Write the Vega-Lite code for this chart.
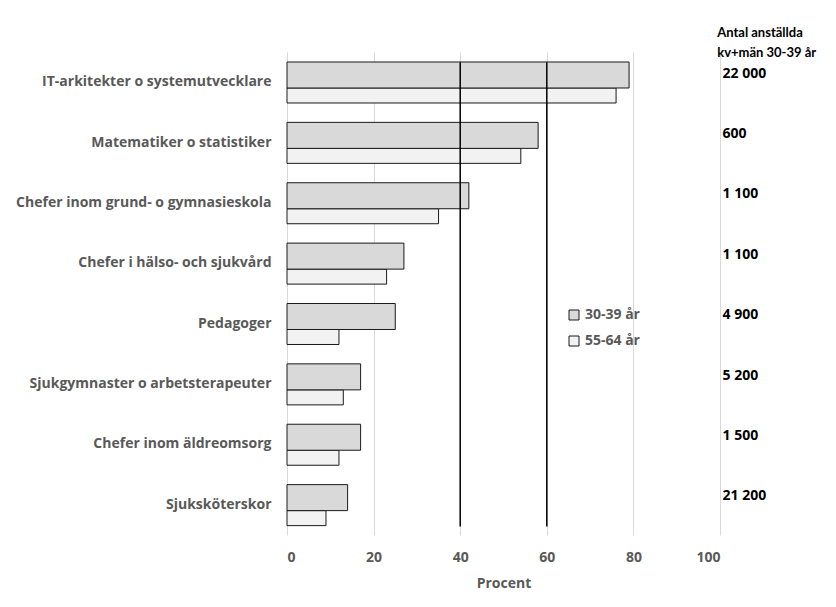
{
  "$schema": "https://vega.github.io/schema/vega-lite/v6.json",
  "width": 433,
  "height": 483,
  "autosize": {"type": "none"},
  "padding": {"left": 287, "top": 52, "right": 116, "bottom": 72},
  "background": "white",
  "config": {"view": {"stroke": null}, "font": "Open Sans"},
  "datasets": {
    "bars": [
      {"yrke": "IT-arkitekter o systemutvecklare", "grupp": "30-39 år", "procent": 79},
      {"yrke": "IT-arkitekter o systemutvecklare", "grupp": "55-64 år", "procent": 76},
      {"yrke": "Matematiker o statistiker", "grupp": "30-39 år", "procent": 58},
      {"yrke": "Matematiker o statistiker", "grupp": "55-64 år", "procent": 54},
      {"yrke": "Chefer inom grund- o gymnasieskola", "grupp": "30-39 år", "procent": 42},
      {"yrke": "Chefer inom grund- o gymnasieskola", "grupp": "55-64 år", "procent": 35},
      {"yrke": "Chefer i hälso- och sjukvård", "grupp": "30-39 år", "procent": 27},
      {"yrke": "Chefer i hälso- och sjukvård", "grupp": "55-64 år", "procent": 23},
      {"yrke": "Pedagoger", "grupp": "30-39 år", "procent": 25},
      {"yrke": "Pedagoger", "grupp": "55-64 år", "procent": 12},
      {"yrke": "Sjukgymnaster o arbetsterapeuter", "grupp": "30-39 år", "procent": 17},
      {"yrke": "Sjukgymnaster o arbetsterapeuter", "grupp": "55-64 år", "procent": 13},
      {"yrke": "Chefer inom äldreomsorg", "grupp": "30-39 år", "procent": 17},
      {"yrke": "Chefer inom äldreomsorg", "grupp": "55-64 år", "procent": 12},
      {"yrke": "Sjuksköterskor", "grupp": "30-39 år", "procent": 14},
      {"yrke": "Sjuksköterskor", "grupp": "55-64 år", "procent": 9}
    ],
    "antal": [
      {"yrke": "IT-arkitekter o systemutvecklare", "antal": "22 000"},
      {"yrke": "Matematiker o statistiker", "antal": "600"},
      {"yrke": "Chefer inom grund- o gymnasieskola", "antal": "1 100"},
      {"yrke": "Chefer i hälso- och sjukvård", "antal": "1 100"},
      {"yrke": "Pedagoger", "antal": "4 900"},
      {"yrke": "Sjukgymnaster o arbetsterapeuter", "antal": "5 200"},
      {"yrke": "Chefer inom äldreomsorg", "antal": "1 500"},
      {"yrke": "Sjuksköterskor", "antal": "21 200"}
    ],
    "granser": [{"grans": 40}, {"grans": 60}]
  },
  "encoding": {
    "y": {
      "field": "yrke",
      "type": "nominal",
      "sort": ["IT-arkitekter o systemutvecklare", "Matematiker o statistiker", "Chefer inom grund- o gymnasieskola", "Chefer i hälso- och sjukvård", "Pedagoger", "Sjukgymnaster o arbetsterapeuter", "Chefer inom äldreomsorg", "Sjuksköterskor"],
      "scale": {"paddingInner": 0, "paddingOuter": 0},
      "axis": {
        "title": null,
        "domain": false,
        "ticks": false,
        "labelFont": "Open Sans",
        "labelFontSize": 14,
        "labelFontWeight": "bold",
        "labelColor": "#595959",
        "labelPadding": 16,
        "labelLimit": 300
      }
    }
  },
  "layer": [
    {
      "data": {"name": "bars"},
      "transform": [{"filter": "datum.grupp === '55-64 år'"}],
      "mark": {"type": "bar", "height": 15, "yOffset": 13.3, "stroke": "#1a1a1a", "strokeWidth": 1},
      "encoding": {
        "x": {
          "field": "procent",
          "type": "quantitative",
          "scale": {"domain": [0, 100], "nice": false},
          "axis": {
            "values": [0, 20, 40, 60, 80, 100],
            "grid": true,
            "gridColor": "#d9d9d9",
            "domain": false,
            "ticks": false,
            "labelFont": "Open Sans",
            "labelFontSize": 14,
            "labelFontWeight": "bold",
            "labelColor": "#595959",
            "labelPadding": 15,
            "title": "Procent",
            "titleFont": "Open Sans",
            "titleFontSize": 14,
            "titleFontWeight": "bold",
            "titleColor": "#595959",
            "titlePadding": 12
          }
        },
        "fill": {
          "field": "grupp",
          "type": "nominal",
          "scale": {"domain": ["30-39 år", "55-64 år"], "range": ["#d9d9d9", "#f2f2f2"]},
          "legend": {
            "title": null,
            "orient": "none",
            "legendX": 280,
            "legendY": 256,
            "padding": 0,
            "symbolType": "square",
            "symbolSize": 100,
            "symbolStrokeColor": "#1a1a1a",
            "symbolStrokeWidth": 1,
            "labelFont": "Open Sans",
            "labelFontSize": 14,
            "labelFontWeight": "bold",
            "labelColor": "#595959",
            "labelOffset": 4,
            "rowPadding": 12
          }
        }
      }
    },
    {
      "data": {"name": "bars"},
      "transform": [{"filter": "datum.grupp === '30-39 år'"}],
      "mark": {"type": "bar", "height": 26, "yOffset": -7.2, "stroke": "#1a1a1a", "strokeWidth": 1},
      "encoding": {
        "x": {"field": "procent", "type": "quantitative"},
        "fill": {"field": "grupp", "type": "nominal"}
      }
    },
    {
      "data": {"name": "granser"},
      "mark": {"type": "rule", "color": "#000000", "strokeWidth": 1.5},
      "encoding": {
        "x": {"field": "grans", "type": "quantitative"},
        "y": {"datum": "IT-arkitekter o systemutvecklare", "bandPosition": 0.17},
        "y2": {"datum": "Sjuksköterskor", "bandPosition": 0.86}
      }
    },
    {
      "data": {"name": "antal"},
      "mark": {"type": "text", "align": "left", "baseline": "middle", "dy": -8.5, "font": "Open Sans", "fontSize": 14, "fontWeight": "bold", "color": "#000000"},
      "encoding": {
        "x": {"datum": 100.6},
        "text": {"field": "antal", "type": "nominal"}
      }
    },
    {
      "data": {"values": [{"rubrik": "Antal anställda"}]},
      "mark": {"type": "text", "text": ["Antal anställda", "kv+män 30-39 år"], "align": "left", "baseline": "middle", "dy": -19, "lineHeight": 20, "font": "Lato", "fontSize": 13, "fontWeight": "bold", "color": "#000000"},
      "encoding": {
        "x": {"datum": 99.35},
        "y": {"datum": "IT-arkitekter o systemutvecklare", "bandPosition": 0}
      }
    }
  ]
}
